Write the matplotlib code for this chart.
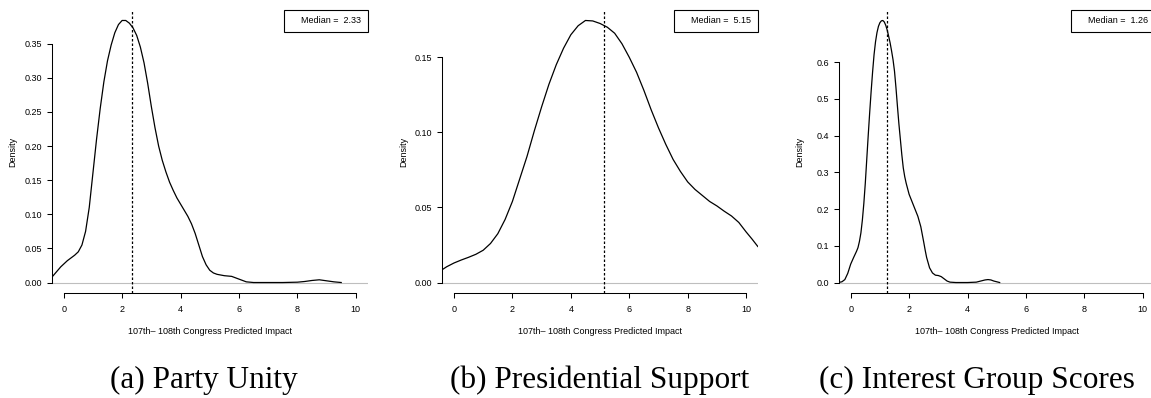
import matplotlib
matplotlib.use("Agg")
import matplotlib.pyplot as plt
from matplotlib.lines import Line2D

plt.rcParams['font.family'] = ['Liberation Sans', 'DejaVu Sans']

# density curves (x = predicted impact, y = density)
x_unity = [-0.4, -0.3, -0.2, -0.1, 0.0, 0.125, 0.25, 0.375, 0.5, 0.625, 0.75,
           0.875, 1.0, 1.125, 1.25, 1.375, 1.5, 1.625, 1.75, 1.875, 2.0,
           2.125, 2.25, 2.375, 2.5, 2.625, 2.75, 2.875, 3.0, 3.125, 3.25,
           3.375, 3.5, 3.625, 3.75, 3.875, 4.0, 4.125, 4.25, 4.375, 4.5,
           4.625, 4.75, 4.875, 5.0, 5.125, 5.25, 5.5, 5.75, 5.875, 6.0, 6.125,
           6.25, 6.5, 7.0, 7.5, 8.0, 8.25, 8.5, 8.75, 9.0, 9.25, 9.5]
y_unity = [0.008, 0.013, 0.018, 0.023, 0.027, 0.032, 0.036, 0.040, 0.045,
           0.055, 0.075, 0.110, 0.160, 0.210, 0.255, 0.294, 0.325, 0.348,
           0.366, 0.378, 0.384, 0.384, 0.380, 0.373, 0.362, 0.345, 0.322,
           0.292, 0.258, 0.227, 0.200, 0.179, 0.162, 0.147, 0.135, 0.124,
           0.115, 0.106, 0.097, 0.086, 0.072, 0.055, 0.038, 0.026, 0.018,
           0.014, 0.012, 0.010, 0.009, 0.007, 0.005, 0.003, 0.001, 0.0, 0.0,
           0.0, 0.0005, 0.0015, 0.003, 0.004, 0.0025, 0.001, 0.0]

x_pres = [-0.4, -0.25, 0.0, 0.25, 0.5, 0.75, 1.0, 1.25, 1.5, 1.75, 2.0, 2.25,
          2.5, 2.75, 3.0, 3.25, 3.5, 3.75, 4.0, 4.25, 4.5, 4.75, 5.0, 5.25,
          5.5, 5.75, 6.0, 6.25, 6.5, 6.75, 7.0, 7.25, 7.5, 7.75, 8.0, 8.25,
          8.5, 8.75, 9.0, 9.25, 9.5, 9.75, 10.0, 10.2, 10.4]
y_pres = [0.0086, 0.0105, 0.013, 0.015, 0.0168, 0.0188, 0.0215, 0.026,
          0.0325, 0.042, 0.054, 0.069, 0.084, 0.101, 0.117, 0.132, 0.145,
          0.156, 0.165, 0.171, 0.1745, 0.1742, 0.1725, 0.170, 0.166, 0.159,
          0.150, 0.140, 0.128, 0.115, 0.103, 0.092, 0.082, 0.074, 0.067,
          0.062, 0.058, 0.054, 0.051, 0.0475, 0.0443, 0.040, 0.0337, 0.029,
          0.024]

x_group = [-0.42, -0.3, -0.2, -0.1, 0.0, 0.1, 0.2, 0.25, 0.3, 0.35, 0.4, 0.45,
           0.5, 0.55, 0.6, 0.65, 0.7, 0.75, 0.8, 0.85, 0.9, 0.95, 1.0, 1.05,
           1.1, 1.15, 1.2, 1.25, 1.3, 1.35, 1.4, 1.45, 1.5, 1.55, 1.6, 1.65,
           1.7, 1.75, 1.8, 1.85, 1.9, 2.0, 2.1, 2.2, 2.3, 2.4, 2.5, 2.55, 2.6,
           2.7, 2.8, 2.9, 3.0, 3.1, 3.2, 3.3, 3.4, 3.6, 4.0, 4.3, 4.5, 4.6,
           4.7, 4.8, 4.9, 5.0, 5.1]
y_group = [0.0, 0.002, 0.008, 0.025, 0.050, 0.068, 0.085, 0.095, 0.112, 0.135,
           0.170, 0.215, 0.270, 0.335, 0.400, 0.462, 0.520, 0.573, 0.620,
           0.655, 0.680, 0.697, 0.707, 0.712, 0.713, 0.709, 0.700, 0.687,
           0.670, 0.652, 0.630, 0.606, 0.575, 0.530, 0.480, 0.432, 0.390,
           0.348, 0.312, 0.288, 0.270, 0.240, 0.220, 0.200, 0.180, 0.152,
           0.110, 0.088, 0.068, 0.040, 0.026, 0.020, 0.019, 0.016, 0.010,
           0.004, 0.001, 0.0, 0.0, 0.001, 0.005, 0.007, 0.008, 0.007, 0.004,
           0.002, 0.0]

medians = [2.33, 5.15, 1.26]
captions = ['(a) Party Unity', '(b) Presidential Support',
            '(c) Interest Group Scores']
yticks = [[0.0, 0.05, 0.10, 0.15, 0.20, 0.25, 0.30, 0.35],
          [0.0, 0.05, 0.10, 0.15],
          [0.0, 0.1, 0.2, 0.3, 0.4, 0.5, 0.6]]
yfmt = ['{:.2f}', '{:.2f}', '{:.1f}']
xticks = [0, 2, 4, 6, 8, 10]
curves = [(x_unity, y_unity), (x_pres, y_pres), (x_group, y_group)]

W, H = 1151, 398
fig = plt.figure(figsize=(W / 100, H / 100), dpi=100)

lefts = [52, 442.3, 839]
caption_x = [204, 600, 977]
ax_w, top_px, bot_px = 315.5, 10, 293
FS = 6.5

for i, (xs, ys) in enumerate(curves):
    ax = fig.add_axes([lefts[i] / W, (H - bot_px) / H, ax_w / W,
                       (bot_px - top_px) / H])
    ymax = max(ys)
    ax.set_xlim(-0.4, 10.4)
    ax.set_ylim(-0.04 * ymax, 1.04 * ymax)

    ax.axhline(0, color='#bebebe', lw=0.8, zorder=1)
    ax.plot(xs, ys, color='black', lw=0.9, zorder=3)
    ax.axvline(medians[i], color='black', lw=0.9, linestyle=(0, (2, 1.6)),
               zorder=2)

    for s in ['top', 'right']:
        ax.spines[s].set_visible(False)
    ax.spines['left'].set_bounds(yticks[i][0], yticks[i][-1])
    ax.spines['bottom'].set_bounds(0, 10)
    for s in ['left', 'bottom']:
        ax.spines[s].set_linewidth(0.75)
    ax.set_xticks(xticks)
    ax.set_yticks(yticks[i])
    ax.set_yticklabels([yfmt[i].format(v) for v in yticks[i]])
    ax.tick_params(axis='both', direction='out', length=3.6, width=0.75,
                   labelsize=FS)
    ax.tick_params(axis='x', pad=5)
    ax.tick_params(axis='y', pad=3.5)

    ax.set_xlabel('107th\u2013 108th Congress Predicted Impact', fontsize=FS,
                  va='center')
    ax.xaxis.set_label_coords(0.5, -(331.7 - bot_px) / (bot_px - top_px))
    ax.set_ylabel('Density', fontsize=FS, va='center')
    ax.yaxis.set_label_coords(-(52 - 13) / ax_w, 0.5)

    leg = ax.legend(handles=[Line2D([], [], linestyle='none')],
                    labels=['Median =  {:.2f}'.format(medians[i])],
                    loc='upper right', bbox_to_anchor=(1, 1.0),
                    borderaxespad=0, fontsize=FS, handlelength=1.0,
                    handletextpad=0.2, borderpad=0.7, fancybox=False,
                    framealpha=1, edgecolor='black')
    leg.get_frame().set_linewidth(0.8)

    fig.text(caption_x[i] / W, 10 / H, captions[i], ha='center',
             va='baseline', fontsize=22.5, family='Liberation Serif')

fig.savefig('out.png', dpi=100)
